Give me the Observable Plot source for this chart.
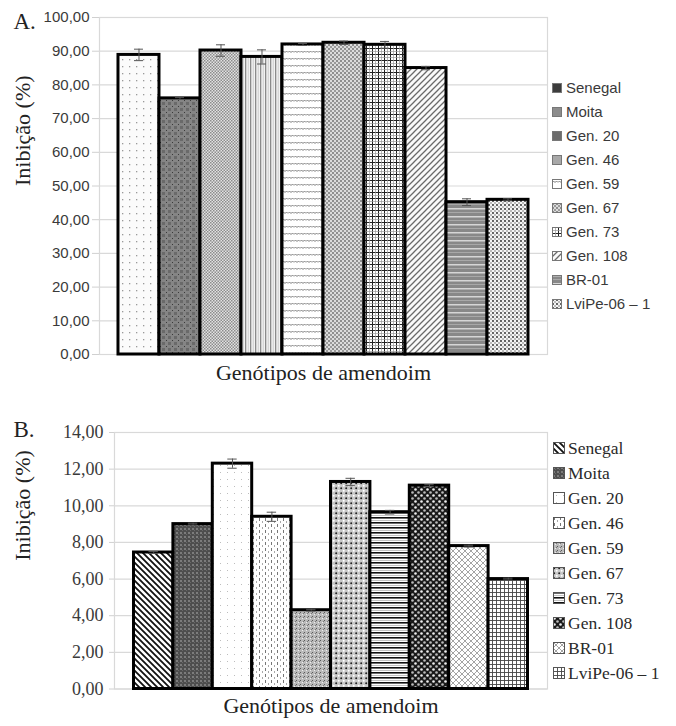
<!DOCTYPE html>
<html>
<head>
<meta charset="utf-8">
<script src="https://cdn.jsdelivr.net/npm/d3@7"></script>
<script src="https://cdn.jsdelivr.net/npm/@observablehq/plot@0.6"></script>
<style>
  body { margin: 0; background: #fff; }
  #root { position: relative; width: 676px; height: 726px; background: #fff; overflow: hidden; }
  .panel { position: absolute; left: 0; }
  .leg { position: absolute; white-space: nowrap; }
  .serif { font-family: "Liberation Serif", "DejaVu Serif", serif; }
  .sans { font-family: "Liberation Sans", "Noto Sans", sans-serif; }
</style>
</head>
<body>
<div id="root">
<svg width="0" height="0" style="position:absolute">
  <defs>
    <pattern id="pA0" width="7" height="7" patternUnits="userSpaceOnUse"><rect width="7" height="7" fill="#fbfbfb"/><rect x="3" y="3" width="1.3" height="1.3" fill="#9a9a9a"/></pattern>
    <pattern id="pA1" width="6" height="6" patternUnits="userSpaceOnUse"><rect width="6" height="6" fill="#858585"/><rect x="0" y="0" width="3" height="3" fill="#6a6a6a"/><rect x="4" y="4" width="1" height="1" fill="#3a3a3a"/></pattern>
    <pattern id="pA2" width="3" height="3" patternUnits="userSpaceOnUse"><rect width="3" height="3" fill="#e2e2e2"/><rect x="0" y="0" width="1.5" height="1.5" fill="#8c8c8c"/><rect x="1.5" y="1.5" width="1.5" height="1.5" fill="#8c8c8c"/></pattern>
    <pattern id="pA3" width="5" height="5" patternUnits="userSpaceOnUse"><rect width="5" height="5" fill="#f2f2f2"/><rect x="0" y="0" width="1.3" height="5" fill="#8a8a8a"/><rect x="2.8" y="0" width="0.8" height="5" fill="#c4c4c4"/></pattern>
    <pattern id="pA4" width="6" height="7" patternUnits="userSpaceOnUse"><rect width="6" height="7" fill="#fff"/><path d="M0 3.5 L1.5 2 L3 3.5 L4.5 2 L6 3.5" fill="none" stroke="#7a7a7a" stroke-width="1"/></pattern>
    <pattern id="pA5" width="4" height="4" patternUnits="userSpaceOnUse"><rect width="4" height="4" fill="#dcdcdc"/><rect x="0" y="0" width="2" height="2" fill="#8e8e8e"/><rect x="2" y="2" width="2" height="2" fill="#9a9a9a"/></pattern>
    <pattern id="pA6" width="6" height="6" patternUnits="userSpaceOnUse"><rect width="6" height="6" fill="#fff"/><rect x="0" y="0" width="1" height="6" fill="#222"/><rect x="0" y="0" width="6" height="1" fill="#222"/><rect x="3" y="0" width="0.7" height="6" fill="#999"/><rect x="0" y="3" width="6" height="0.7" fill="#999"/></pattern>
    <pattern id="pA7" width="6" height="6" patternUnits="userSpaceOnUse"><rect width="6" height="6" fill="#fafafa"/><path d="M-1 7 L7 -1 M-1 1 L1 -1 M5 7 L7 5" stroke="#6a6a6a" stroke-width="1.3"/></pattern>
    <pattern id="pA8" width="8" height="8" patternUnits="userSpaceOnUse"><rect width="8" height="8" fill="#888"/><rect x="0" y="0" width="8" height="1.5" fill="#d6d6d6"/><rect x="0" y="4" width="8" height="1" fill="#a8a8a8"/></pattern>
    <pattern id="pA9" width="4" height="4" patternUnits="userSpaceOnUse"><rect width="4" height="4" fill="#f4f4f4"/><circle cx="1" cy="1" r="0.9" fill="#222"/><circle cx="3" cy="3" r="0.7" fill="#555"/></pattern>
    <pattern id="pB0" width="6" height="6" patternUnits="userSpaceOnUse"><rect width="6" height="6" fill="#fff"/><path d="M-1 -1 L7 7 M5 -1 L7 1 M-1 5 L1 7" stroke="#111" stroke-width="1.8"/></pattern>
    <pattern id="pB1" width="4" height="4" patternUnits="userSpaceOnUse"><rect width="4" height="4" fill="#4e4e4e"/><rect x="0" y="0" width="2" height="2" fill="#7c7c7c"/><rect x="2" y="2" width="1" height="1" fill="#6a6a6a"/></pattern>
    <pattern id="pB2" width="7" height="7" patternUnits="userSpaceOnUse"><rect width="7" height="7" fill="#fff"/><rect x="3" y="3" width="1" height="1" fill="#bdbdbd"/></pattern>
    <pattern id="pB3" width="6" height="6" patternUnits="userSpaceOnUse"><rect width="6" height="6" fill="#fff"/><rect x="1" y="0" width="1" height="3" fill="#777"/><rect x="4" y="3" width="1" height="2" fill="#aaa"/></pattern>
    <pattern id="pB4" width="4" height="4" patternUnits="userSpaceOnUse"><rect width="4" height="4" fill="#bababa"/><rect x="0" y="0" width="1" height="1" fill="#5a5a5a"/><rect x="2" y="2" width="1" height="1" fill="#eee"/><rect x="3" y="1" width="1" height="1" fill="#777"/></pattern>
    <pattern id="pB5" width="5" height="5" patternUnits="userSpaceOnUse"><rect width="5" height="5" fill="#c8c8c8"/><circle cx="1.2" cy="1.2" r="1" fill="#222"/><circle cx="3.7" cy="3.7" r="1" fill="#fff"/></pattern>
    <pattern id="pB6" width="5" height="5" patternUnits="userSpaceOnUse"><rect width="5" height="5" fill="#fff"/><rect x="0" y="0" width="5" height="1.6" fill="#111"/><rect x="0" y="3" width="5" height="0.6" fill="#999"/></pattern>
    <pattern id="pB7" width="6" height="6" patternUnits="userSpaceOnUse"><rect width="6" height="6" fill="#1a1a1a"/><circle cx="1.5" cy="1.5" r="1.3" fill="#eee"/><circle cx="4.5" cy="4.5" r="1.3" fill="#bbb"/></pattern>
    <pattern id="pB8" width="6" height="6" patternUnits="userSpaceOnUse"><rect width="6" height="6" fill="#fff"/><path d="M0 0 L6 6 M6 0 L0 6" stroke="#9a9a9a" stroke-width="0.9"/></pattern>
    <pattern id="pB9" width="4" height="4" patternUnits="userSpaceOnUse"><rect width="4" height="4" fill="#fff"/><rect x="0" y="0" width="0.9" height="4" fill="#444"/><rect x="0" y="0" width="4" height="0.9" fill="#444"/></pattern>
  </defs>
</svg>
<div id="panelA" class="panel" style="top:0"></div>
<div id="panelB" class="panel" style="top:392px"></div>
</div>
<script>
// ---------- DATA ----------
const genotypes = ["Senegal", "Moita", "Gen. 20", "Gen. 46", "Gen. 59", "Gen. 67", "Gen. 73", "Gen. 108", "BR-01", "LviPe-06 – 1"];
const inhibA = [88.9, 76.0, 90.2, 88.3, 92.0, 92.5, 91.9, 85.0, 45.2, 45.9];
const errA   = [1.7, 0.3, 1.7, 2.1, 0.3, 0.5, 1.0, 0.5, 1.0, 0.3];
const inhibB = [7.45, 9.0, 12.3, 9.4, 4.3, 11.3, 9.65, 11.1, 7.8, 6.0];
const errB   = [0.05, 0.05, 0.25, 0.25, 0.05, 0.2, 0.1, 0.05, 0.05, 0.05];
const ticksA = [0, 10, 20, 30, 40, 50, 60, 70, 80, 90, 100];
const ticksB = [0, 2, 4, 6, 8, 10, 12, 14];
const yTitle = "Inibição (%)";
const xTitle = "Genótipos de amendoim";
const panelLabels = ["A.", "B."];

// ---------- STYLES ----------
const fillsA = genotypes.map((_, i) => `url(#pA${i})`);
const fillsB = genotypes.map((_, i) => `url(#pB${i})`);
const legendSwA = ["#3c3c3c", "#8c8c8c", "#6c6c6c", "#a8a8a8", "url(#pA4)", "url(#pA5)", "url(#pA6)", "url(#pA7)", "url(#pA8)", "url(#pA9)"];
const fmt = d => d.toFixed(2).replace(".", ",");

function panel(cfg) {
  const rows = genotypes.map((g, i) => ({g, v: cfg.values[i], e: cfg.errs[i], fill: cfg.fills[i]}));
  return Plot.plot({
    width: 676, height: cfg.height,
    marginLeft: cfg.ml, marginRight: 129, marginTop: cfg.mt, marginBottom: cfg.mb,
    className: "chart",
    style: {background: "transparent"},
    x: {domain: genotypes, paddingInner: 0, paddingOuter: cfg.pad, round: false, axis: null},
    y: {domain: [0, cfg.ticks[cfg.ticks.length - 1]], axis: null},
    color: {type: "identity"},
    marks: [
      Plot.gridY(cfg.ticks, {stroke: "#d9d9d9", strokeOpacity: 1, strokeWidth: 1.2}),
      Plot.frame({stroke: "#d9d9d9", strokeWidth: 1.2}),
      Plot.axisY({ticks: cfg.ticks, tickFormat: fmt, tickSize: cfg.tickSize, tickPadding: cfg.tickPad,
        stroke: "#d0d0d0", fill: "#3a3a3a", fontSize: cfg.tickFs, className: cfg.tickClass, label: null}),
      Plot.barY(rows, {x: "g", y: "v", fill: "fill", stroke: "#000", strokeWidth: 3}),
      Plot.ruleX(rows, {x: "g", y1: d => d.v - d.e, y2: d => d.v + d.e, stroke: "#555", strokeWidth: 1}),
      Plot.tickY(rows, {x: "g", y: d => d.v - d.e, insetLeft: cfg.cap, insetRight: cfg.cap, stroke: "#555", strokeWidth: 1}),
      Plot.tickY(rows, {x: "g", y: d => d.v + d.e, insetLeft: cfg.cap, insetRight: cfg.cap, stroke: "#555", strokeWidth: 1}),
      Plot.text([xTitle], {frameAnchor: "bottom", dy: cfg.xdy, text: d => d, fontSize: 22, fill: "#222", className: "serif"}),
      Plot.text([yTitle], {frameAnchor: "left", dx: cfg.ydx, rotate: -90, text: d => d, fontSize: 22, fill: "#222", className: "serif"}),
      Plot.text([cfg.label], {frameAnchor: "top-left", dx: cfg.ldx, dy: cfg.ldy, textAnchor: "start", lineAnchor: "bottom",
        text: d => d, fontSize: 23, fill: "#222", className: "serif"})
    ]
  });
}

document.getElementById("panelA").appendChild(panel({
  values: inhibA, errs: errA, fills: fillsA, ticks: ticksA, height: 392,
  ml: 99, mt: 17, mb: 38, pad: 0.463, tickSize: 7, tickPad: 3, tickFs: 15, tickClass: "sans",
  cap: 16, xdy: 25, ydx: -77, label: panelLabels[0], ldx: -86, ldy: 11
}));
document.getElementById("panelB").appendChild(panel({
  values: inhibB, errs: errB, fills: fillsB, ticks: ticksB, height: 334,
  ml: 114, mt: 40, mb: 37.5, pad: 0.495, tickSize: 5, tickPad: 6, tickFs: 18, tickClass: "serif",
  cap: 15, xdy: 23.5, ydx: -92, label: panelLabels[1], ldx: -101, ldy: 4
}));

// ---------- LEGENDS ----------
const root = document.getElementById("root");
function legend(items, swatches, opt) {
  items.forEach((name, i) => {
    const cy = opt.y0 + opt.step * i;
    const sw = document.createElementNS("http://www.w3.org/2000/svg", "svg");
    sw.setAttribute("width", opt.sw); sw.setAttribute("height", opt.sw);
    sw.style.position = "absolute"; sw.style.left = opt.swx + "px"; sw.style.top = (cy - opt.sw / 2) + "px";
    const r = document.createElementNS("http://www.w3.org/2000/svg", "rect");
    r.setAttribute("x", 0.5); r.setAttribute("y", 0.5);
    r.setAttribute("width", opt.sw - 1); r.setAttribute("height", opt.sw - 1);
    r.setAttribute("fill", swatches[i]); r.setAttribute("stroke", opt.swStroke); r.setAttribute("stroke-width", 1);
    sw.appendChild(r); root.appendChild(sw);
    const t = document.createElement("div");
    t.className = "leg " + opt.cls; t.textContent = name;
    t.style.left = opt.tx + "px"; t.style.top = (cy - 10) + "px";
    t.style.lineHeight = "20px"; t.style.fontSize = opt.fs + "px"; t.style.color = opt.color;
    root.appendChild(t);
  });
}
legend(genotypes, legendSwA, {y0: 87.5, step: 24, swx: 552, sw: 10, tx: 566, fs: 15, cls: "sans", color: "#3a3a3a", swStroke: "#777"});
legend(genotypes, fillsB, {y0: 448, step: 25, swx: 553, sw: 12, tx: 568, fs: 17.5, cls: "serif", color: "#2a2a2a", swStroke: "#555"});
</script>
</body>
</html>
